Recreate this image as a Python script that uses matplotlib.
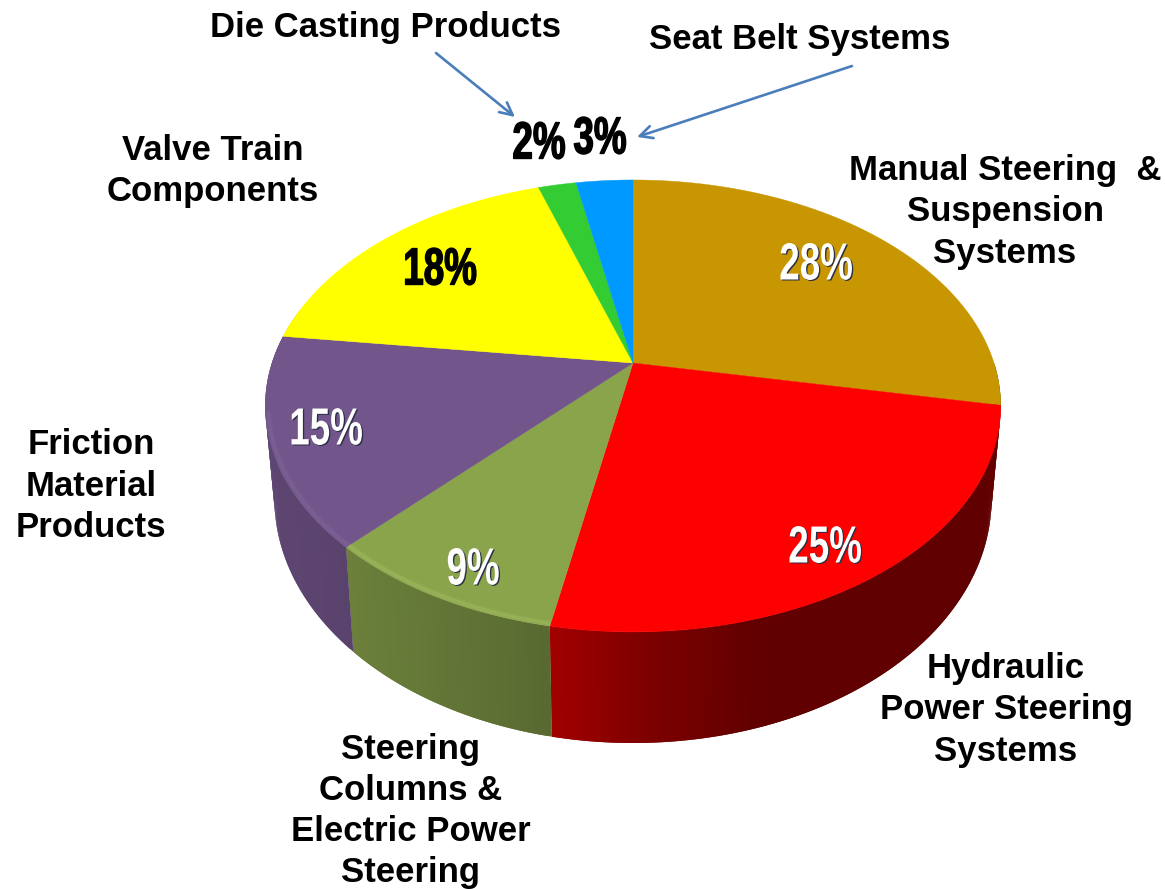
import numpy as np
import matplotlib
matplotlib.use('Agg')
import matplotlib.pyplot as plt
from matplotlib.colors import to_rgb, to_rgba
from matplotlib.patheffects import AbstractPathEffect
from matplotlib.transforms import Affine2D

plt.rcParams['font.family'] = ['Liberation Sans', 'DejaVu Sans']

# data, clockwise from 12 o'clock
names = ['Manual Steering  &\nSuspension\nSystems', 'Hydraulic\nPower Steering\nSystems',
         'Steering\nColumns &\nElectric Power\nSteering', 'Friction\nMaterial\nProducts',
         'Valve Train\nComponents', 'Die Casting Products', 'Seat Belt Systems']
shares = [28, 25, 9, 15, 18, 2, 3]
slice_colors = ['#c89600', '#ff0000', '#8aa44c', '#72558a', '#ffff00', '#33cc33', '#0099ff']
rim_colors = ['#c89600', '#ff0000', '#a4c062', '#846aa0', '#ffff00', '#33cc33', '#0099ff']
name_pos = [(1005, 212), (1006, 710), (411, 811), (91, 486), (213, 171), (385, 28), (800, 40)]
pct_pos = [(816, 266), (825, 549), (473, 571), (326, 431), (440, 271), (539, 145), (600, 140)]
pct_colors = ['white', 'white', 'white', 'white', 'black', 'black', 'black']

# pie geometry in pixels (tilted disc seen in perspective)
cx, cy = 633, 363
R, A, k = 361, 217.8, 0.19
depth = 90
shade_x = [265, 350, 540, 640, 760, 1000]
shade_v = [.82, .78, .65, .5, .38, .38]


def project(theta, r=1.0, drop=0.0):
    u, v = r*np.sin(theta), r*np.cos(theta)
    s = 1/(1 + k*v)
    shrink = 1 - 0.025*drop/depth
    return cx + R*u*s*shrink, cy - A*v*s + drop*s


class Tall(AbstractPathEffect):
    # stretch the glyphs upward around y0, the percent labels are condensed
    def __init__(self, y0, sy, lw=0, color=None, shadow=None):
        self.y0, self.sy, self.lw, self.color, self.shadow = y0, sy, lw, color, shadow

    def draw_path(self, renderer, gc, tpath, affine, rgbFace=None):
        t = affine + Affine2D().translate(0, -self.y0).scale(1, self.sy).translate(0, self.y0)
        if self.shadow:
            renderer.draw_path(gc, tpath, t + Affine2D().translate(1.3, -1.0), to_rgba(self.shadow))
        if self.lw:
            gc0 = renderer.new_gc()
            gc0.copy_properties(gc)
            gc0.set_linewidth(self.lw)
            gc0.set_foreground(self.color)
            renderer.draw_path(gc0, tpath, t, rgbFace)
            gc0.restore()
        renderer.draw_path(gc, tpath, t, rgbFace)


fig = plt.figure(figsize=(11.65, 8.89), dpi=100)
ax = fig.add_axes([0, 0, 1, 1])
ax.set_xlim(0, 1165)
ax.set_ylim(889, 0)
ax.axis('off')

edges = np.radians(np.cumsum([0] + shares)*3.6)

# side wall, overlapping quads so that the shade varies along x without seams
for i in range(len(shares)):
    a0, a1 = edges[i], edges[i+1]
    a0 = max(a0, np.radians(90))
    a1 = min(a1, np.radians(285))
    if a1 <= a0:
        continue
    steps = np.linspace(a0, a1, max(int((a1-a0)*90), 3))
    base = np.array(to_rgb(slice_colors[i]))
    for j in range(len(steps)-1):
        tt = steps[j:j+3]
        xt, yt = project(tt)
        xb, yb = project(tt, drop=depth)
        f = np.interp(xt[:2].mean(), shade_x, shade_v)
        ax.fill(np.r_[xt, xb[::-1]], np.r_[yt, yb[::-1]], color=base*f, lw=0, zorder=1)

# top face
for i in range(len(shares)):
    tt = np.linspace(edges[i], edges[i+1], 120)
    x, y = project(tt)
    ax.fill(np.r_[cx, x], np.r_[cy, y], color=slice_colors[i], lw=0.3, zorder=2)
    # bevel along the front rim
    front = (tt > np.radians(100)) & (tt < np.radians(258))
    if front.sum() > 1:
        for r, lw, al in [(0.992, 4.5, .15), (0.992, 2.5, .35)]:
            xr, yr = project(tt[front], r=r)
            ax.plot(xr, yr, color=rim_colors[i], lw=lw, alpha=al,
                    solid_capstyle='butt', zorder=3)

for name, (x, y) in zip(names, name_pos):
    ax.text(x, y, name, ha='center', va='center', fontsize=25, fontweight='bold',
            color='black', linespacing=1.32, zorder=5)

for v, (x, y), c in zip(shares, pct_pos, pct_colors):
    y0 = 889 - y
    if c == 'white':
        eff = Tall(y0, 1.42, shadow='#2a2f45')
    else:
        eff = Tall(y0, 1.42, lw=1.0, color='black')
    ax.text(x, y, f'{v}%', ha='center', va='center', fontsize=26.5, fontweight='bold',
            color=c, path_effects=[eff], zorder=6)

# callout arrows for the two small slices
arrow = dict(arrowstyle='->,head_length=0.9,head_width=0.45', color='#4a7ebb', lw=1.9,
             shrinkA=0, shrinkB=0)
ax.annotate('', xy=(515, 117), xytext=(436, 53), arrowprops=arrow, zorder=6)
ax.annotate('', xy=(637, 137), xytext=(852, 66), arrowprops=arrow, zorder=6)

plt.savefig('out.png', dpi=100)
